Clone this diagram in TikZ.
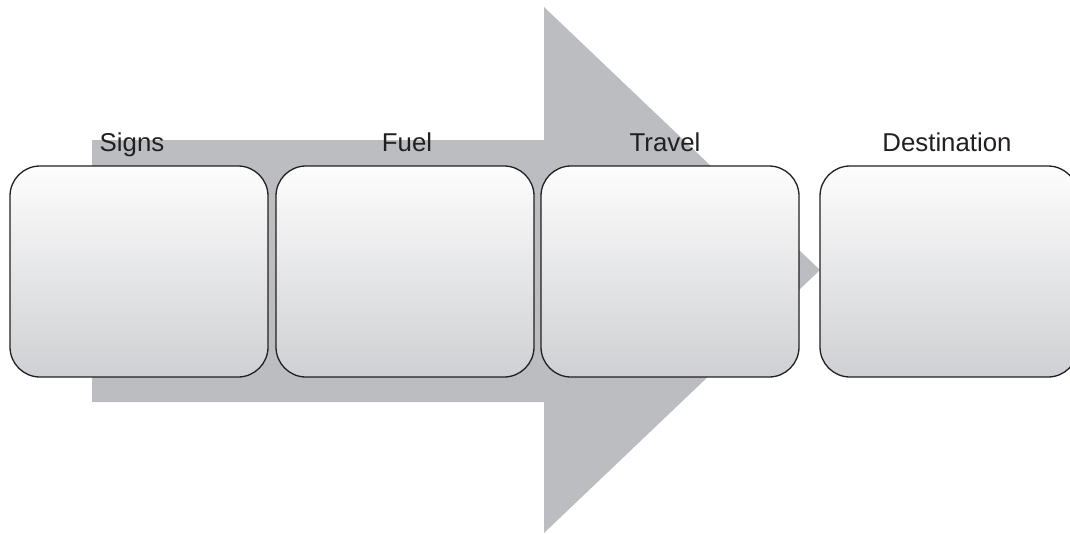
\documentclass[tikz,border=0pt]{standalone}
\usepackage{fontspec}
\setmainfont{Liberation Sans}
\usetikzlibrary{positioning}
\definecolor{arrowgray}{HTML}{BCBDC0}
\definecolor{boxtop}{HTML}{FDFDFD}
\definecolor{boxbottom}{HTML}{CFD0D3}
\definecolor{boxline}{HTML}{231F20}

\begin{document}
\begin{tikzpicture}[x=1pt, y=-1pt,
  stagebox/.style={draw=boxline, line width=1.3pt, rounded corners=30pt,
    top color=boxtop, bottom color=boxbottom,
    minimum width=258pt, minimum height=211pt, inner sep=0pt},
  stagelabel/.style={anchor=base, font=\fontsize{25.8}{30}\selectfont,
    text=boxline, inner sep=0pt}]
  \clip (0,0) rectangle (1070,533);
  \useasboundingbox (0,0) rectangle (1070,533);

  % Big process arrow behind the boxes
  \fill[arrowgray]
    (92,140) -- (544,140) -- (544,7) -- (820,270)
    -- (544,533) -- (544,402) -- (92,402) -- cycle;

  % Stage boxes
  \node[stagebox] (signs) at (139,271.5) {};
  \node[stagebox] (fuel) at (405,271.5) {};
  \node[stagebox] (travel) at (670,271.5) {};
  \node[stagebox] (dest) at (949,271.5) {};

  % Stage titles
  \node[stagelabel] (signslbl) at (132,151) {Signs};
  \node[stagelabel] (fuellbl) at (407,151) {Fuel};
  \node[stagelabel] (travellbl) at (665,151) {Travel};
  \node[stagelabel] (destlbl) at (947,151) {Destination};
\end{tikzpicture}
\end{document}
